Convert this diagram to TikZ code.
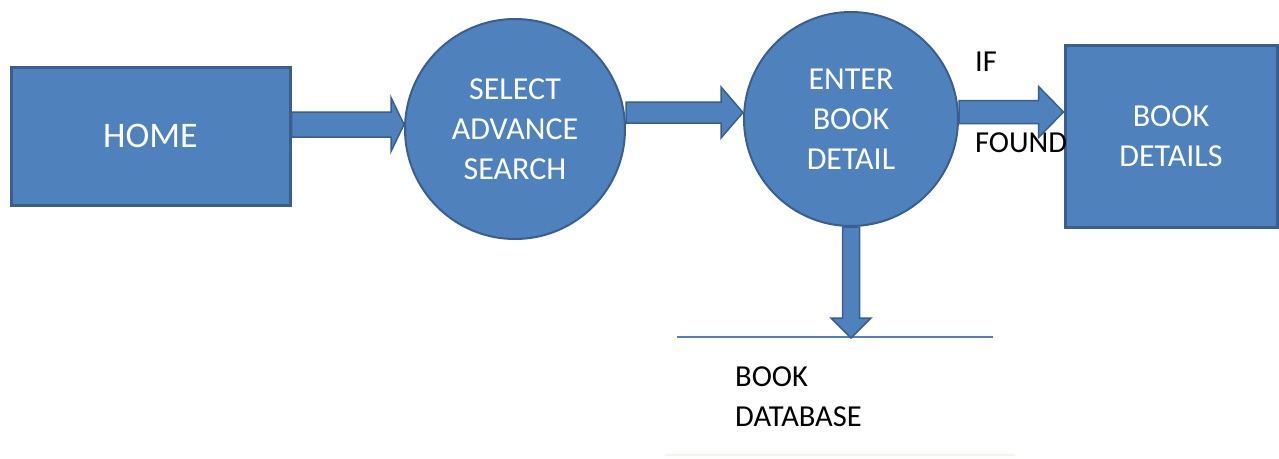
\documentclass[tikz,border=0pt]{standalone}
\usepackage{fontspec}
\setmainfont{Carlito}
\usetikzlibrary{calc}
\definecolor{boxfill}{HTML}{4F81BD}
\definecolor{boxline}{HTML}{3A5F8F}
\definecolor{faintgreen}{HTML}{EEF8EC}
\tikzset{
  boxnode/.style={draw=boxline, fill=boxfill, line width=3pt, text=white, align=center,
    font=\fontsize{32}{40}\selectfont, inner sep=0pt},
  circnode/.style={circle, draw=boxline, fill=boxfill, line width=2pt, text=white, align=center,
    font=\fontsize{32}{40}\selectfont, inner sep=0pt},
  barrow/.style={draw=boxline, fill=boxfill, line width=1.5pt, line join=miter},
  label/.style={text=black, anchor=west, inner sep=0pt, font=\fontsize{30.5}{40}\selectfont},
  storeline/.style={draw=boxfill, line width=1.5pt}
}
\newcommand\harrowbl[5]{%
  \draw[barrow] ($(#1)+(0,-#3)$) -- ($(#2)+(-#5,-#3)$) -- ($(#2)+(-#5,-#4)$) -- (#2)
    -- ($(#2)+(-#5,#4)$) -- ($(#2)+(-#5,#3)$) -- ($(#1)+(0,#3)$) -- cycle;}
\newcommand\varrowbl[5]{%
  \draw[barrow] ($(#1)+(-#3,0)$) -- ($(#2)+(-#3,-#5)$) -- ($(#2)+(-#4,-#5)$) -- (#2)
    -- ($(#2)+(#4,-#5)$) -- ($(#2)+(#3,-#5)$) -- ($(#1)+(#3,0)$) -- cycle;}
\begin{document}
\begin{tikzpicture}[x=1pt, y=-1pt]
\useasboundingbox (0,0) rectangle (1279,458);
\fill[white] (0,0) rectangle (1279,458);

\node[boxnode, minimum width=279pt, minimum height=138pt, font=\fontsize{36}{42}\selectfont] (home) at (150.5,136) {HOME};
\node[circnode, minimum size=220pt] (sel) at (515,129) {SELECT\\ADVANCE\\SEARCH};
\node[circnode, minimum size=214pt] (ent) at (851,119) {ENTER\\BOOK\\DETAIL};
\node[boxnode, minimum width=212pt, minimum height=182pt] (det) at (1171,136) {BOOK\\DETAILS};

\node[label] (if) at (975,62) {IF};
\node[label] (found) at (975,143) {FOUND};

% arrows
\coordinate (a1s) at (home.east |- 0,124.5);
\coordinate (a1e) at (sel.west |- 0,124.5);
\coordinate (a2s) at (sel.east |- 0,112.5);
\coordinate (a2e) at (ent.west |- 0,112.5);
\coordinate (a3s) at (ent.east |- 0,112);
\coordinate (a3e) at (det.west |- 0,112);
\coordinate (dbtip) at (ent.south |- 0,338);

\harrowbl{a1s}{a1e}{12.5}{27}{13}
\harrowbl{a2s}{a2e}{10.5}{25.5}{22}
\harrowbl{a3s}{a3e}{11.5}{25.5}{25}

% data store
\coordinate (dbl) at (677,337);
\coordinate (dbr) at (993,337);
\draw[storeline] (dbl) -- (dbr);
\draw[faintgreen, line width=2pt] (665,455) -- (1015,455);
\varrowbl{ent.south}{dbtip}{8.5}{20}{20}

\node[label, align=left] (db) at (735,397) {BOOK\\DATABASE};
\end{tikzpicture}
\end{document}
